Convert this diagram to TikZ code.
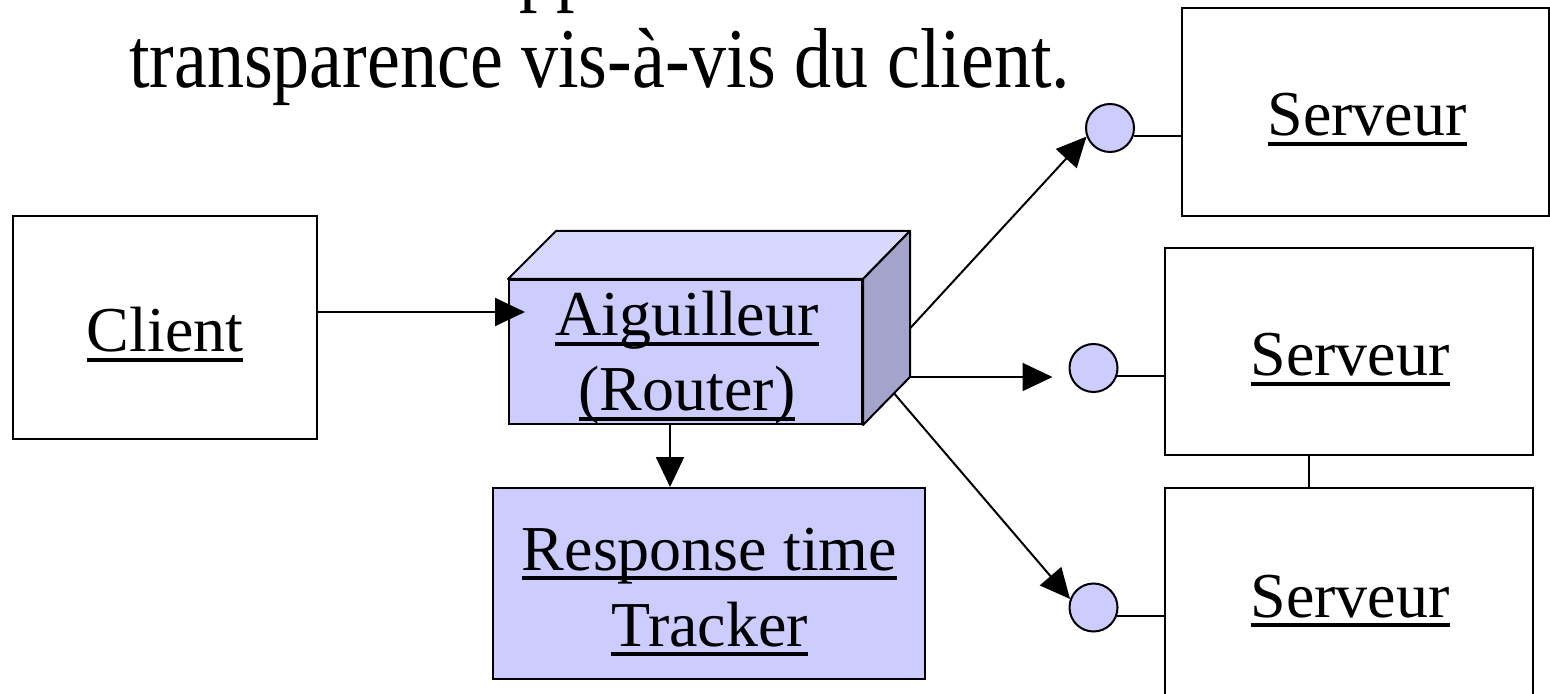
\documentclass[tikz,border=0pt]{standalone}
\usepackage{fontspec}
\usepackage{graphicx}
\setmainfont{Liberation Serif}
\usetikzlibrary{arrows.meta,calc}
\definecolor{lav}{RGB}{204,204,255}
\definecolor{lavtop}{RGB}{216,216,255}
\definecolor{lavside}{RGB}{163,163,204}
\newcommand\ulx[1]{\setbox0\hbox{#1}\rlap{\rule[-0.15em]{\wd0}{0.05em}}\box0}
\newcommand\tallx[1]{\scalebox{1}[1.15]{#1}}
\begin{document}
\begin{tikzpicture}[x=0.5pt,y=-0.5pt,
  line width=1pt,
  box/.style={draw=black, rectangle, inner sep=0pt},
  filledbox/.style={box, fill=lav},
  port/.style={draw=black, fill=lav, circle, inner sep=0pt, minimum size=24pt},
  lbl/.style={font=\fontsize{32}{38}\selectfont, inner sep=0pt, anchor=base},
  ttl/.style={font=\fontsize{37}{44}\selectfont, inner sep=0pt, anchor=base west},
  arr/.style={-{Triangle[length=15pt,width=14pt]}},
  conn/.style={draw=black}]
\useasboundingbox (0,0) rectangle (1550,694);
\clip (0,0) rectangle (1550,694);

% title (partially visible)
\node[ttl] (t0) at (518,-4) {\tallx{pp}};
\node[ttl] (t1) at (128,88) {\tallx{transparence vis-à-vis du client.}};

% client
\node[box, minimum width=152pt, minimum height=111.5pt] (client) at (165,327.5) {};
\node[lbl] (clientl) at (165,352) {\ulx{Client}};

% router cube
\node[filledbox, minimum width=176.5pt, minimum height=72pt] (router) at (685.5,352) {};
\coordinate (rtl) at ($(router.north west)+(48,-48)$);
\coordinate (rtr) at ($(router.north east)+(47,-48)$);
\coordinate (rbr) at ($(router.south east)+(47,-48)$);
\filldraw[fill=lavtop, line join=round] (router.north west) -- (rtl) -- (rtr) -- (router.north east) -- cycle;
\filldraw[fill=lavside, line join=round] (router.north east) -- (rtr) -- (rbr) -- (router.south east) -- cycle;
\node[lbl] (routerl1) at (687,336) {\ulx{Aiguilleur}};
\node[lbl] (routerl2) at (687,411) {\ulx{(Router)}};

% tracker
\node[filledbox, minimum width=216pt, minimum height=95.5pt] (tracker) at (709,583.5) {};
\node[lbl] (trackerl1) at (709.5,570) {\ulx{Response time}};
\node[lbl] (trackerl2) at (709.5,646) {\ulx{Tracker}};

% ports
\node[port] (c1) at (1110,128) {};
\node[port] (c2) at (1093.5,368) {};
\node[port] (c3) at (1093.5,607.5) {};

% servers
\node[box, minimum width=183.5pt, minimum height=104pt] (s1) at (1365.5,112) {};
\node[lbl] (s1l) at (1367,136) {\ulx{Serveur}};
\node[box, minimum width=184pt, minimum height=103.5pt] (s2) at (1349,351.5) {};
\node[lbl] (s2l) at (1350,376) {\ulx{Serveur}};
\node[box, minimum width=184pt, minimum height=106pt] (s3) at (1349,594) {};
\node[lbl] (s3l) at (1350,617) {\ulx{Serveur}};

% connectors
\coordinate (rin) at (525,312);
\draw[arr] (client.east |- rin) -- (rin);
\draw[arr] (router.south -| 670,0) -- (tracker.north -| 670,0);
\draw[arr] ($(rtr)!0.667!(rbr)$) -- (c1.200);
\draw[arr] (rbr) -- ($(c2.west |- rbr)+(-16,0)$);
\draw[arr] ($(router.south east)!0.66!(rbr)$) -- (c3.160);
\draw[conn] (c1.-19.5) -- (c1.-19.5 -| s1.west);
\draw[conn] (c2.-19.5) -- (c2.-19.5 -| s2.west);
\draw[conn] (c3.-19.5) -- (c3.-19.5 -| s3.west);
\draw[conn] (s2.south -| 1309,0) -- (s3.north -| 1309,0);
\end{tikzpicture}
\end{document}
